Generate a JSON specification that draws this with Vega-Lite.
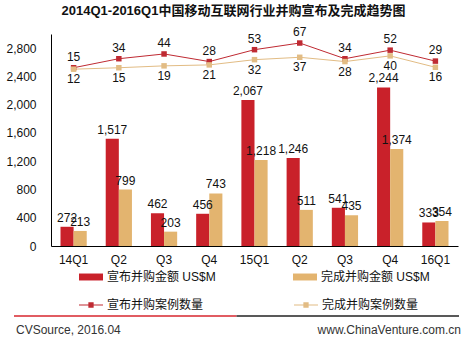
{
  "$schema": "https://vega.github.io/schema/vega-lite/v6.json",
  "padding": 5,
  "background": "white",
  "title": {"text": "2014Q1-2016Q1中国移动互联网行业并购宣布及完成趋势图", "fontSize": 13, "fontWeight": "bold", "anchor": "middle", "offset": 8, "color": "#111"},
  "datasets": {
    "amounts": [
      {"q": "14Q1", "series": "宣布并购金额 US$M", "amount": 272},
      {"q": "14Q2", "series": "宣布并购金额 US$M", "amount": 1517},
      {"q": "14Q3", "series": "宣布并购金额 US$M", "amount": 462},
      {"q": "14Q4", "series": "宣布并购金额 US$M", "amount": 456},
      {"q": "15Q1", "series": "宣布并购金额 US$M", "amount": 2067},
      {"q": "15Q2", "series": "宣布并购金额 US$M", "amount": 1246},
      {"q": "15Q3", "series": "宣布并购金额 US$M", "amount": 541},
      {"q": "15Q4", "series": "宣布并购金额 US$M", "amount": 2244},
      {"q": "16Q1", "series": "宣布并购金额 US$M", "amount": 333},
      {"q": "14Q1", "series": "完成并购金额 US$M", "amount": 213},
      {"q": "14Q2", "series": "完成并购金额 US$M", "amount": 799},
      {"q": "14Q3", "series": "完成并购金额 US$M", "amount": 203},
      {"q": "14Q4", "series": "完成并购金额 US$M", "amount": 743},
      {"q": "15Q1", "series": "完成并购金额 US$M", "amount": 1218},
      {"q": "15Q2", "series": "完成并购金额 US$M", "amount": 511},
      {"q": "15Q3", "series": "完成并购金额 US$M", "amount": 435},
      {"q": "15Q4", "series": "完成并购金额 US$M", "amount": 1374},
      {"q": "16Q1", "series": "完成并购金额 US$M", "amount": 354}
    ],
    "counts": [
      {"q": "14Q1", "series2": "宣布并购案例数量", "count": 15},
      {"q": "14Q2", "series2": "宣布并购案例数量", "count": 34},
      {"q": "14Q3", "series2": "宣布并购案例数量", "count": 44},
      {"q": "14Q4", "series2": "宣布并购案例数量", "count": 28},
      {"q": "15Q1", "series2": "宣布并购案例数量", "count": 53},
      {"q": "15Q2", "series2": "宣布并购案例数量", "count": 67},
      {"q": "15Q3", "series2": "宣布并购案例数量", "count": 34},
      {"q": "15Q4", "series2": "宣布并购案例数量", "count": 52},
      {"q": "16Q1", "series2": "宣布并购案例数量", "count": 29},
      {"q": "14Q1", "series2": "完成并购案例数量", "count": 12},
      {"q": "14Q2", "series2": "完成并购案例数量", "count": 15},
      {"q": "14Q3", "series2": "完成并购案例数量", "count": 19},
      {"q": "14Q4", "series2": "完成并购案例数量", "count": 21},
      {"q": "15Q1", "series2": "完成并购案例数量", "count": 32},
      {"q": "15Q2", "series2": "完成并购案例数量", "count": 37},
      {"q": "15Q3", "series2": "完成并购案例数量", "count": 28},
      {"q": "15Q4", "series2": "完成并购案例数量", "count": 40},
      {"q": "16Q1", "series2": "完成并购案例数量", "count": 16}
    ],
    "footer": [
      {"kind": "rule", "part": "red", "from": "start", "to": "middle", "row": "rule"},
      {"kind": "rule", "part": "black", "from": "middle", "to": "end", "row": "rule"},
      {"kind": "text", "label": "CVSource, 2016.04", "at": "start", "row": "text"},
      {"kind": "text", "label": "www.ChinaVenture.com.cn", "at": "end", "row": "text"}
    ]
  },
  "spacing": 4,
  "resolve": {
    "scale": {"fill": "independent", "color": "independent", "stroke": "independent"},
    "legend": {"fill": "independent", "color": "independent", "stroke": "independent"}
  },
  "vconcat": [
    {
      "width": 407,
      "height": 212,
      "resolve": {"scale": {"y": "independent"}},
      "layer": [
        {
          "data": {"name": "amounts"},
          "encoding": {
            "x": {"field": "q", "type": "nominal", "sort": null,
              "scale": {"paddingInner": 0.42, "paddingOuter": 0.21},
              "axis": {"title": null, "labelAngle": 0, "ticks": false, "domainColor": "#000", "labelPadding": 8, "labelFontSize": 12, "labelColor": "#111",
                "labelExpr": "slice(datum.value, 2) == 'Q1' ? datum.value : slice(datum.value, 2)"}},
            "xOffset": {"field": "series", "type": "nominal", "sort": ["宣布并购金额 US$M", "完成并购金额 US$M"]},
            "y": {"field": "amount", "type": "quantitative",
              "scale": {"domain": [0, 3000], "nice": false},
              "axis": {"title": null, "values": [0, 400, 800, 1200, 1600, 2000, 2400, 2800], "format": ",d", "grid": false, "ticks": false, "domainColor": "#000", "labelPadding": 15, "labelFontSize": 12, "labelColor": "#111"}}
          },
          "layer": [
            {
              "mark": {"type": "bar"},
              "encoding": {
                "fill": {"field": "series", "type": "nominal",
                  "scale": {"domain": ["宣布并购金额 US$M", "完成并购金额 US$M"], "range": ["#C9212A", "#E3B46F"]},
                  "legend": {"orient": "bottom", "direction": "horizontal", "columns": 2, "title": null,
                    "symbolType": "M-1,-0.29H1V0.29H-1Z", "symbolSize": 576, "symbolStrokeWidth": 0,
                    "labelFontSize": 12, "labelColor": "#111", "labelOffset": 4, "columnPadding": 77, "offset": 0}}
              }
            },
            {
              "mark": {"type": "text", "baseline": "bottom", "dy": -2, "fontSize": 12, "color": "#111"},
              "encoding": {"text": {"field": "amount", "type": "quantitative", "format": ","}}
            }
          ]
        },
        {
          "data": {"name": "counts"},
          "encoding": {
            "x": {"field": "q", "type": "nominal", "sort": null},
            "y": {"field": "count", "type": "quantitative", "scale": {"domain": [-360, 86], "nice": false}, "axis": null},
            "color": {"field": "series2", "type": "nominal",
              "scale": {"domain": ["宣布并购案例数量", "完成并购案例数量"], "range": ["#BF2A32", "#E2BC84"]},
              "legend": {"orient": "bottom", "direction": "horizontal", "columns": 2, "title": null,
                "symbolType": "M-1,-0.045H1V0.045H-1Z M-0.22,-0.22H0.22V0.22H-0.22Z", "symbolSize": 576, "symbolStrokeWidth": 0,
                "labelFontSize": 12, "labelColor": "#111", "labelOffset": 4, "columnPadding": 90,
                "encode": {"symbols": {"update": {"fill": {"signal": "scale('color', datum.value)"}, "strokeWidth": {"value": 0}}}}}}
          },
          "layer": [
            {"mark": {"type": "line", "strokeWidth": 1}},
            {"mark": {"type": "point", "shape": "square", "filled": true, "size": 30, "opacity": 1}},
            {
              "transform": [{"filter": "datum.series2 == '宣布并购案例数量'"}],
              "mark": {"type": "text", "baseline": "bottom", "dy": -4, "fontSize": 12, "color": "#111"},
              "encoding": {"text": {"field": "count", "type": "quantitative"}, "color": {"value": "#111"}}
            },
            {
              "transform": [{"filter": "datum.series2 == '完成并购案例数量'"}],
              "mark": {"type": "text", "baseline": "top", "dy": 5, "fontSize": 12, "color": "#111"},
              "encoding": {"text": {"field": "count", "type": "quantitative"}, "color": {"value": "#111"}}
            }
          ]
        }
      ]
    },
    {
      "width": 407,
      "height": 14,
      "data": {"name": "footer"},
      "layer": [
        {
          "transform": [{"filter": "datum.kind == 'rule'"}],
          "mark": {"type": "rule", "strokeWidth": 1.5},
          "encoding": {
            "x": {"field": "from", "type": "nominal", "scale": {"type": "point", "domain": ["start", "middle", "end"], "padding": 0, "range": [-37, 408]}, "axis": null},
            "x2": {"field": "to"},
            "y": {"field": "row", "type": "nominal", "scale": {"type": "point", "domain": ["rule", "text"], "padding": 0}, "axis": null},
            "stroke": {"field": "part", "type": "nominal", "scale": {"domain": ["red", "black"], "range": ["#D7262E", "#222222"]}, "legend": null}
          }
        },
        {
          "transform": [{"filter": "datum.kind == 'text' && datum.at == 'start'"}],
          "mark": {"type": "text", "align": "left", "baseline": "middle", "fontSize": 12, "color": "#333", "dx": 2},
          "encoding": {
            "x": {"field": "at", "type": "nominal", "scale": {"type": "point", "domain": ["start", "middle", "end"], "padding": 0, "range": [-37, 408]}, "axis": null},
            "y": {"field": "row", "type": "nominal", "scale": {"type": "point", "domain": ["rule", "text"], "padding": 0}, "axis": null},
            "text": {"field": "label"}
          }
        },
        {
          "transform": [{"filter": "datum.kind == 'text' && datum.at == 'end'"}],
          "mark": {"type": "text", "align": "right", "baseline": "middle", "fontSize": 12, "color": "#333", "dx": 2},
          "encoding": {
            "x": {"field": "at", "type": "nominal", "scale": {"type": "point", "domain": ["start", "middle", "end"], "padding": 0, "range": [-37, 408]}, "axis": null},
            "y": {"field": "row", "type": "nominal", "scale": {"type": "point", "domain": ["rule", "text"], "padding": 0}, "axis": null},
            "text": {"field": "label"}
          }
        }
      ]
    }
  ],
  "config": {
    "font": "'Liberation Sans', 'Noto Sans CJK SC', sans-serif",
    "view": {"stroke": null},
    "axis": {"labelFont": "'Liberation Sans', 'Noto Sans CJK SC', sans-serif"},
    "legend": {
      "labelFont": "'Liberation Sans', 'Noto Sans CJK SC', sans-serif",
      "layout": {"bottom": {"anchor": "middle", "direction": "vertical", "margin": 10}}
    },
    "title": {"font": "'Liberation Sans', 'Noto Sans CJK SC', sans-serif"}
  }
}
